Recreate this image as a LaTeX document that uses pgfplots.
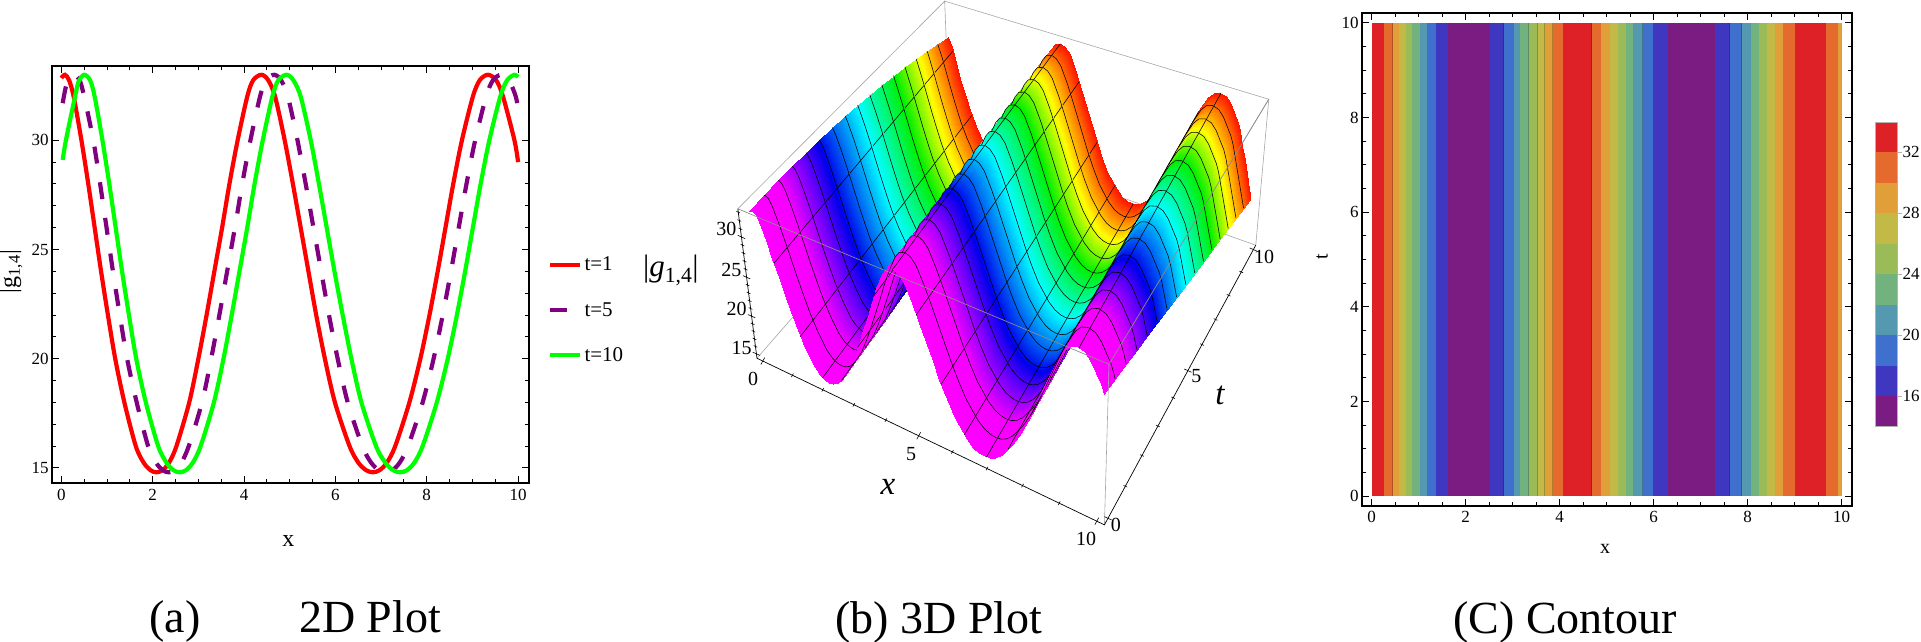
\documentclass[border=0pt]{standalone}
\usepackage{pgfplots}
\usepackage{pgfplotstable}
\usepackage{fontspec}
\setmainfont{Liberation Serif}
\pgfplotsset{compat=1.18}
\definecolor{c1}{HTML}{7B1C82}
\definecolor{c2}{HTML}{3F37C0}
\definecolor{c3}{HTML}{4070CE}
\definecolor{c4}{HTML}{5499AF}
\definecolor{c5}{HTML}{72B27F}
\definecolor{c6}{HTML}{9ABB58}
\definecolor{c7}{HTML}{C3B947}
\definecolor{c8}{HTML}{E09F38}
\definecolor{c9}{HTML}{E56A2E}
\definecolor{c10}{HTML}{DE2126}
\pgfplotsset{colormap={rb}{rgb255(0pt)=(255,0,255); rgb255(12pt)=(245,0,255); rgb255(20pt)=(140,0,255); rgb255(30pt)=(0,0,235); rgb255(50pt)=(0,255,255); rgb255(69pt)=(0,240,0); rgb255(83pt)=(255,255,0); rgb255(100pt)=(255,20,0)}}
\pgfkeys{/pgfplots/table/proj/.style={x expr={pu(\thisrow{x},\thisrow{t},\thisrow{z})},y expr={1568-pv(\thisrow{x},\thisrow{t},\thisrow{z})},z expr={0}}}
% profile of |g_{1,4}|, each position twice (s = near / far side of a ribbon)
\pgfplotstableread{
x z s
0 32.85 0
0 32.85 1
0.08 33 0
0.08 33 1
0.17 32.75 0
0.17 32.75 1
0.27 32 0
0.27 32 1
0.44 30 0
0.44 30 1
0.59 28 0
0.59 28 1
0.73 26 0
0.73 26 1
0.87 24 0
0.87 24 1
1.02 22 0
1.02 22 1
1.18 20 0
1.18 20 1
1.38 18 0
1.38 18 1
1.63 16 0
1.63 16 1
1.8 15.25 0
1.8 15.25 1
1.95 14.9 0
1.95 14.9 1
2.08 14.8 0
2.08 14.8 1
2.22 14.9 0
2.22 14.9 1
2.36 15.25 0
2.36 15.25 1
2.52 16 0
2.52 16 1
2.8 18 0
2.8 18 1
3 20 0
3 20 1
3.18 22 0
3.18 22 1
3.35 24 0
3.35 24 1
3.52 26 0
3.52 26 1
3.68 28 0
3.68 28 1
3.86 30 0
3.86 30 1
4.07 32 0
4.07 32 1
4.2 32.75 0
4.2 32.75 1
4.38 33 0
4.38 33 1
4.53 32.75 0
4.53 32.75 1
4.68 32 0
4.68 32 1
4.89 30 0
4.89 30 1
5.07 28 0
5.07 28 1
5.24 26 0
5.24 26 1
5.41 24 0
5.41 24 1
5.58 22 0
5.58 22 1
5.77 20 0
5.77 20 1
5.99 18 0
5.99 18 1
6.31 16 0
6.31 16 1
6.5 15.25 0
6.5 15.25 1
6.67 14.9 0
6.67 14.9 1
6.82 14.8 0
6.82 14.8 1
6.97 14.9 0
6.97 14.9 1
7.13 15.25 0
7.13 15.25 1
7.31 16 0
7.31 16 1
7.62 18 0
7.62 18 1
7.86 20 0
7.86 20 1
8.06 22 0
8.06 22 1
8.24 24 0
8.24 24 1
8.41 26 0
8.41 26 1
8.58 28 0
8.58 28 1
8.77 30 0
8.77 30 1
9.01 32 0
9.01 32 1
9.16 32.75 0
9.16 32.75 1
9.34 33 0
9.34 33 1
9.52 32.75 0
9.52 32.75 1
9.67 32 0
9.67 32 1
9.92 30 0
9.92 30 1
10 29 0
10 29 1
10.1 27.3 0
10.1 27.3 1
10.2 25.6 0
10.2 25.6 1
10.3 23.9 0
10.3 23.9 1
10.4 22.2 0
10.4 22.2 1
10.5 20.5 0
10.5 20.5 1
}\Prof
\pgfplotstableread{
x z s
0.625 27.5 0
0.625 27.5 1
nan nan nan
1.25 19.3 0
1.25 19.3 1
nan nan nan
1.875 15.07 0
1.875 15.07 1
nan nan nan
2.5 15.9 0
2.5 15.9 1
nan nan nan
3.125 21.4 0
3.125 21.4 1
nan nan nan
3.75 28.8 0
3.75 28.8 1
nan nan nan
4.375 33 0
4.375 33 1
nan nan nan
5 28.8 0
5 28.8 1
nan nan nan
5.625 21.5 0
5.625 21.5 1
nan nan nan
6.25 16.4 0
6.25 16.4 1
nan nan nan
6.875 14.82 0
6.875 14.82 1
nan nan nan
7.5 17.2 0
7.5 17.2 1
nan nan nan
8.125 22.7 0
8.125 22.7 1
nan nan nan
8.75 29.8 0
8.75 29.8 1
nan nan nan
9.375 33 0
9.375 33 1
}\Mx
\newcommand\band[3]{\addplot[fill=#1,draw=none,forget plot] coordinates {(#2,0)(#3,0)(#3,10)(#2,10)} --cycle;
\addplot[black,opacity=0.22,line width=0.7pt,forget plot] coordinates {(#3,0)(#3,10)};}
\newcommand\cb[3]{\addplot[fill=#1,draw=none,forget plot] coordinates {(0,#2)(1,#2)(1,#3)(0,#3)} --cycle;}
\begin{document}
\begin{tikzpicture}[x=1pt,y=1pt,
  declare function={
    XX(\x)=(\x+0.2)/10.4; YY(\t)=(\t+0.2)/10.4; ZZ(\z)=(\z-14.4)/19;
    WW(\x,\t,\z)=1-0.1293*XX(\x)+0.2*YY(\t)-0.0623*ZZ(\z);
    pu(\x,\t,\z)=(768*XX(\x)+640*YY(\t)-57.8*ZZ(\z)+175)/WW(\x,\t,\z);
    pv(\x,\t,\z)=(241.2*XX(\x)-475*YY(\t)-396.8*ZZ(\z)+875)/WW(\x,\t,\z);
    sx(\p,\t)=min(max(\p-0.047*\t,0),10);
    sz(\p,\q,\t)=(\p<0.047*\t) ? (33-25*(0.047*\t-0.08)^2) : ((\p-0.047*\t>10) ? (29-17*0.047*\t) : \q);
  }]
\useasboundingbox (0,0) rectangle (1921,642);
% ---------- panel a
\begin{axis}[at={(52.2pt,159.2pt)},anchor=south west,scale only axis,width=476.4pt,height=417.2pt,
  xmin=-0.2,xmax=10.23,ymin=14.32,ymax=33.42,
  xtick={0,2,...,10},minor x tick num=3,ytick={15,20,25,30},minor y tick num=4,
  tick align=inside,major tick length=7pt,minor tick length=4pt,
  axis line style={line width=2pt},tick style={black,line width=1pt},
  /pgf/number format/assume math mode=true,
  tick label style={font=\fontsize{17}{17}\selectfont},
  xticklabel style={yshift=-3pt},
  every axis x label/.style={at={(axis description cs:0.496,-0.1395)},anchor=center},
  every axis y label/.style={at={(axis description cs:-0.0865,0.506)},anchor=center,rotate=90},
  label style={font=\fontsize{24}{24}\selectfont},
  xlabel={x},ylabel={|g\textsubscript{1,4}|},
  legend style={draw=none,fill=none,at={(1.041,0.414)},anchor=west,font=\fontsize{21}{21}\selectfont,row sep=26pt,inner sep=0pt},
  legend cell align=left,
  legend image code/.code={\draw[#1] (0pt,0pt) -- (30pt,0pt);},
  ]
\addplot[red,line width=4.2pt,smooth,tension=0.5] coordinates {(0,32.85)(0.08,33)(0.17,32.75)(0.27,32)(0.44,30)(0.59,28)(0.73,26)(0.87,24)(1.02,22)(1.18,20)(1.38,18)(1.63,16)(1.8,15.25)(1.95,14.9)(2.08,14.8)(2.22,14.9)(2.36,15.25)(2.52,16)(2.8,18)(3,20)(3.18,22)(3.35,24)(3.52,26)(3.68,28)(3.86,30)(4.07,32)(4.2,32.75)(4.38,33)(4.53,32.75)(4.68,32)(4.89,30)(5.07,28)(5.24,26)(5.41,24)(5.58,22)(5.77,20)(5.99,18)(6.31,16)(6.5,15.25)(6.67,14.9)(6.82,14.8)(6.97,14.9)(7.13,15.25)(7.31,16)(7.62,18)(7.86,20)(8.06,22)(8.24,24)(8.41,26)(8.58,28)(8.77,30)(9.01,32)(9.16,32.75)(9.34,33)(9.52,32.75)(9.67,32)(9.92,30)(10,29)};
\addlegendentry{t=1}
\addplot[color={rgb,255:red,128;green,0;blue,128},line width=4.2pt,smooth,tension=0.5,dash pattern=on 17pt off 19pt] coordinates {(0.03,31.7)(0.12,32.6)(0.27,33)(0.4,32.75)(0.5,32)(0.7,30)(0.85,28)(0.99,26)(1.13,24)(1.28,22)(1.44,20)(1.65,18)(1.9,16)(2.07,15.25)(2.22,14.9)(2.35,14.8)(2.49,14.9)(2.63,15.25)(2.79,16)(3.08,18)(3.28,20)(3.46,22)(3.63,24)(3.8,26)(3.96,28)(4.14,30)(4.35,32)(4.48,32.75)(4.66,33)(4.81,32.75)(4.96,32)(5.17,30)(5.35,28)(5.52,26)(5.69,24)(5.86,22)(6.05,20)(6.27,18)(6.59,16)(6.78,15.25)(6.95,14.9)(7.1,14.8)(7.25,14.9)(7.41,15.25)(7.59,16)(7.91,18)(8.15,20)(8.35,22)(8.53,24)(8.7,26)(8.87,28)(9.06,30)(9.3,32)(9.45,32.75)(9.63,33)(9.8,32.75)(9.95,32)(10,31.4)};
\addlegendentry{t=5}
\addplot[color={rgb,255:red,0;green,255;blue,0},line width=4.2pt,smooth,tension=0.5] coordinates {(0.03,29.1)(0.1,30)(0.3,32)(0.38,32.7)(0.5,33)(0.63,32.75)(0.73,32)(0.9,30)(1.05,28)(1.19,26)(1.33,24)(1.48,22)(1.64,20)(1.85,18)(2.12,16)(2.3,15.25)(2.45,14.9)(2.59,14.8)(2.73,14.9)(2.88,15.25)(3.05,16)(3.34,18)(3.55,20)(3.73,22)(3.9,24)(4.07,26)(4.23,28)(4.41,30)(4.62,32)(4.75,32.75)(4.93,33)(5.08,32.75)(5.24,32)(5.46,30)(5.64,28)(5.81,26)(5.98,24)(6.16,22)(6.35,20)(6.57,18)(6.89,16)(7.09,15.25)(7.26,14.9)(7.42,14.8)(7.57,14.9)(7.73,15.25)(7.91,16)(8.22,18)(8.46,20)(8.66,22)(8.84,24)(9.01,26)(9.18,28)(9.37,30)(9.61,32)(9.76,32.75)(9.92,33)(10,32.9)};
\addlegendentry{t=10}
\end{axis}
% ---------- panel b (plotted in zoom units: 1568 x 1568 over 600 x 642)
\begin{axis}[at={(690pt,0pt)},anchor=south west,scale only axis,width=600pt,height=642pt,
  view={0}{90},hide axis,clip=false,xmin=0,xmax=1568,ymin=0,ymax=1568,zmin=-1,zmax=1,
  colormap name=rb,point meta min=0,point meta max=10,z buffer=none]
% back edges of the box
\addplot3[gray!70,line width=0.6pt] table[proj] {
x t z
-0.2 10.2 33.4
10.2 10.2 33.4
10.2 -0.2 33.4
};
\addplot3[gray!70,line width=0.6pt] table[proj] {
x t z
-0.2 -0.2 33.4
-0.2 10.2 33.4
-0.2 10.2 14.4
-0.2 -0.2 14.4
};
\addplot3[gray!70,line width=0.6pt] table[proj] {
x t z
-0.2 10.2 14.4
10.2 10.2 14.4
10.2 10.2 33.4
};
% surface, far ribbons first
\pgfplotsforeachungrouped \i in {15,14,13,12,11,10,9,8,7,6,5,4,3,2,1,0}{
  \pgfmathsetmacro\tA{\i*0.625}
  \pgfmathsetmacro\tB{(\i+1)*0.625}
  \addplot3[surf,shader=interp,mesh/rows=63,mesh/cols=2,mesh/check=false,point meta={\tA+0.625*\thisrow{s}}]
    table[x expr={pu(sx(\thisrow{x},\tA+0.625*\thisrow{s}),\tA+0.625*\thisrow{s},sz(\thisrow{x},\thisrow{z},\tA+0.625*\thisrow{s}))},
          y expr={1568-pv(sx(\thisrow{x},\tA+0.625*\thisrow{s}),\tA+0.625*\thisrow{s},sz(\thisrow{x},\thisrow{z},\tA+0.625*\thisrow{s}))},z expr={0}] {\Prof};
  \addplot3[black,line width=0.55pt,unbounded coords=jump]
    table[x expr={pu(\thisrow{x}-0.047*(\tA+0.625*\thisrow{s}),\tA+0.625*\thisrow{s},\thisrow{z})},
          y expr={1568-pv(\thisrow{x}-0.047*(\tA+0.625*\thisrow{s}),\tA+0.625*\thisrow{s},\thisrow{z})},z expr={0}] {\Mx};
  \ifnum\i<15
  \addplot3[black,line width=0.55pt]
    table[x expr={pu(sx(\thisrow{x},\tB),\tB,sz(\thisrow{x},\thisrow{z},\tB))},
          y expr={1568-pv(sx(\thisrow{x},\tB),\tB,sz(\thisrow{x},\thisrow{z},\tB))},z expr={0}] {\Prof};
  \fi
}
% front edges of the box
\addplot3[gray!90,line width=0.7pt] table[proj] {
x t z
-0.2 -0.2 33.4
10.2 -0.2 33.4
10.2 10.2 33.4
};
\addplot3[gray!70,line width=0.6pt] table[proj] {
x t z
10.2 -0.2 33.4
10.2 -0.2 14.4
};
\addplot3[black,line width=0.7pt] table[proj] {
x t z
-0.2 -0.2 33.4
-0.2 -0.2 14.4
10.2 -0.2 14.4
10.2 10.2 14.4
};
% ticks
\addplot3[only marks,mark=|,mark size=4pt,mark options={rotate=-29,line width=0.6pt,black}] table[proj] {
x t z
0 -0.2 14.4
5 -0.2 14.4
10 -0.2 14.4
};
\addplot3[only marks,mark=|,mark size=2pt,mark options={rotate=-29,line width=0.6pt,black}] table[proj] {
x t z
1 -0.2 14.4
2 -0.2 14.4
3 -0.2 14.4
4 -0.2 14.4
6 -0.2 14.4
7 -0.2 14.4
8 -0.2 14.4
9 -0.2 14.4
};
\addplot3[only marks,mark=|,mark size=4pt,mark options={rotate=66,line width=0.6pt,black}] table[proj] {
x t z
10.2 0 14.4
10.2 5 14.4
10.2 10 14.4
-0.2 -0.2 15
-0.2 -0.2 20
-0.2 -0.2 25
-0.2 -0.2 30
};
\addplot3[only marks,mark=|,mark size=2pt,mark options={rotate=66,line width=0.6pt,black}] table[proj] {
x t z
10.2 1 14.4
10.2 2 14.4
10.2 3 14.4
10.2 4 14.4
10.2 6 14.4
10.2 7 14.4
10.2 8 14.4
10.2 9 14.4
-0.2 -0.2 16
-0.2 -0.2 17
-0.2 -0.2 18
-0.2 -0.2 19
-0.2 -0.2 21
-0.2 -0.2 22
-0.2 -0.2 23
-0.2 -0.2 24
-0.2 -0.2 26
-0.2 -0.2 27
-0.2 -0.2 28
-0.2 -0.2 29
-0.2 -0.2 31
-0.2 -0.2 32
-0.2 -0.2 33
};
\tikzset{tl/.style={font=\fontsize{20}{20}\selectfont}}
\node[tl] at (axis cs:95,1010,0) {30};
\node[tl] at (axis cs:108,908,0) {25};
\node[tl] at (axis cs:122,813,0) {20};
\node[tl] at (axis cs:135,718,0) {15};
\node[tl] at (axis cs:165,643,0) {0};
\node[tl] at (axis cs:578,460,0) {5};
\node[tl] at (axis cs:1035,251,0) {10};
\node[tl] at (axis cs:1113,286,0) {0};
\node[tl] at (axis cs:1323,650,0) {5};
\node[tl] at (axis cs:1500,940,0) {10};
\node[font=\fontsize{33}{33}\selectfont\itshape] at (axis cs:517,378,0) {x};
\node[font=\fontsize{33}{33}\selectfont\itshape] at (axis cs:1385,603,0) {t};
\node[font=\fontsize{31}{31}\selectfont] at (axis cs:-50,908,0) {|\textit{g}\textsubscript{1,4}|};
\end{axis}
% ---------- panel c
\begin{axis}[at={(1362.2pt,136pt)},anchor=south west,scale only axis,width=489.8pt,height=492.9pt,
  xmin=-0.2,xmax=10.22,ymin=-0.205,ymax=10.207,
  xtick={0,2,...,10},minor x tick num=3,ytick={0,2,...,10},minor y tick num=3,
  tick align=inside,major tick length=7pt,minor tick length=4pt,
  axis line style={line width=2pt},tick style={black,line width=1pt},
  axis on top,
  /pgf/number format/assume math mode=true,
  tick label style={font=\fontsize{17}{17}\selectfont},
  xticklabel style={yshift=-2pt},
  every axis x label/.style={at={(1605pt-1362.2pt,-43pt)},anchor=center},
  every axis y label/.style={at={(1322pt-1362.2pt,249pt)},anchor=center,rotate=90},
  label style={font=\fontsize{20}{20}\selectfont},
  xlabel={x},ylabel={t}]
\band{c10}{0}{0.27}
\band{c9}{0.27}{0.45}
\band{c8}{0.45}{0.59}
\band{c7}{0.59}{0.74}
\band{c6}{0.74}{0.86}
\band{c5}{0.86}{1.03}
\band{c4}{1.03}{1.18}
\band{c3}{1.18}{1.38}
\band{c2}{1.38}{1.63}
\band{c1}{1.63}{2.52}
\band{c2}{2.52}{2.81}
\band{c3}{2.81}{3.03}
\band{c4}{3.03}{3.16}
\band{c5}{3.16}{3.34}
\band{c6}{3.34}{3.53}
\band{c7}{3.53}{3.68}
\band{c8}{3.68}{3.85}
\band{c9}{3.85}{4.07}
\band{c10}{4.07}{4.68}
\band{c9}{4.68}{4.89}
\band{c8}{4.89}{5.08}
\band{c7}{5.08}{5.24}
\band{c6}{5.24}{5.42}
\band{c5}{5.42}{5.56}
\band{c4}{5.56}{5.77}
\band{c3}{5.77}{5.99}
\band{c2}{5.99}{6.31}
\band{c1}{6.31}{7.31}
\band{c2}{7.31}{7.62}
\band{c3}{7.62}{7.87}
\band{c4}{7.87}{8.07}
\band{c5}{8.07}{8.24}
\band{c6}{8.24}{8.42}
\band{c7}{8.42}{8.58}
\band{c8}{8.58}{8.76}
\band{c9}{8.76}{9.01}
\band{c10}{9.01}{9.67}
\band{c9}{9.67}{9.92}
\addplot[fill=c8,draw=none,forget plot] coordinates {(9.92,0)(10,0)(10,10)(9.92,10)} --cycle;
\end{axis}
% ---------- colour bar
\begin{axis}[at={(1875.8pt,215.3pt)},anchor=south west,scale only axis,width=21.2pt,height=303.8pt,
  xmin=0,xmax=1,ymin=14.01,ymax=33.93,xtick=\empty,ytick={16,20,24,28,32},
  ytick pos=right,yticklabel pos=right,tick align=outside,major tick length=5pt,
  axis line style={gray!60,line width=0.8pt},tick style={gray!60,line width=0.8pt},
  /pgf/number format/assume math mode=true,
  yticklabel style={font=\fontsize{17}{17}\selectfont,xshift=-3pt},axis on top]
\cb{c1}{14.01}{16}
\cb{c2}{16}{18}
\cb{c3}{18}{20}
\cb{c4}{20}{22}
\cb{c5}{22}{24}
\cb{c6}{24}{26}
\cb{c7}{26}{28}
\cb{c8}{28}{30}
\cb{c9}{30}{32}
\cb{c10}{32}{33.93}
\end{axis}
% ---------- captions
\node[anchor=base,font=\fontsize{46}{50}\selectfont] at (175,9) {(a)};
\node[anchor=base,font=\fontsize{46}{50}\selectfont] at (370,9) {2D Plot};
\node[anchor=base,font=\fontsize{46}{50}\selectfont] at (939,8) {(b) 3D Plot};
\node[anchor=base,font=\fontsize{46}{50}\selectfont] at (1565,8) {(C) Contour};
\end{tikzpicture}
\end{document}
